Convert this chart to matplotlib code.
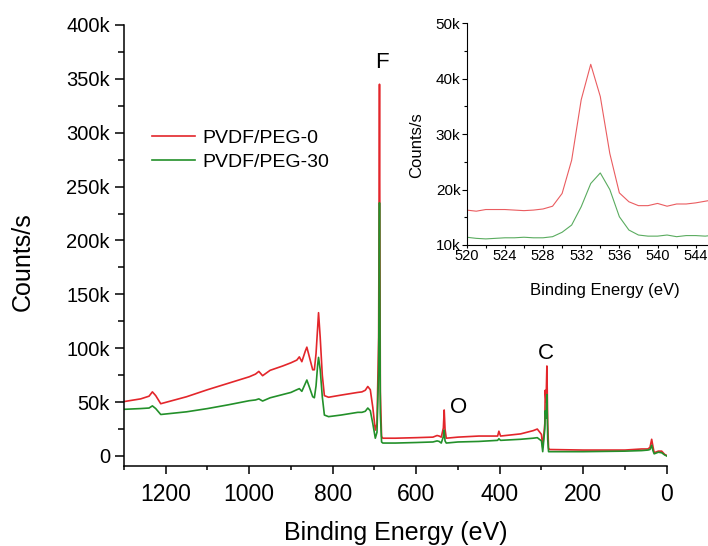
import matplotlib.pyplot as plt
from matplotlib.ticker import MultipleLocator, FuncFormatter

plt.rcParams['font.family'] = ['Liberation Sans', 'DejaVu Sans']

# XPS survey spectra (binding energy in eV, counts/s in thousands)
be_survey = [1300, 1260, 1240, 1232, 1224, 1212, 1150, 1100, 1050, 1000,
             985, 977, 968, 950, 920, 900, 886, 880, 874, 866,
             862, 856, 848, 844, 840, 836, 834, 830, 825, 820,
             810, 780, 740, 730, 722, 716, 710, 704, 698, 694,
             690, 688, 686, 683, 680, 650, 600, 560, 550, 545,
             540, 535, 533, 531, 528, 500, 450, 405, 402, 398,
             350, 320, 310, 300, 297, 292, 291, 289, 287, 285,
             283, 280, 200, 100, 60, 45, 40, 36, 33, 30,
             20, 12, 5, 0]
peg0_k = [50.5, 53, 55.5, 59.5, 56, 48.5, 55, 61.5, 67.5, 73.5,
          76, 78.5, 74.5, 79.5, 83.5, 86.5, 89, 92, 87.5, 97,
          101, 92, 80, 80, 95, 120, 133, 110, 75, 56,
          54.5, 56.5, 59, 59.5, 61, 64.5, 61.5, 45, 24, 30,
          110, 345, 60, 18, 16.5, 16.5, 17, 17.5, 19, 18.5,
          17.5, 26, 42.7, 25, 16.5, 17.5, 18.5, 18.5, 23, 18.5,
          20.5, 23.5, 25, 20, 8, 30, 61, 50, 83.5, 30,
          7, 6, 5.5, 5.5, 6.5, 6.5, 8, 15.5, 9, 3,
          4.5, 4.5, 1.5, 0.5]
peg30_k = [43.3, 44, 44.5, 46.5, 44, 38.5, 41, 44, 47.5, 51.3,
           52, 53, 51, 54, 57, 59, 61.5, 62.5, 60, 67,
           70.5, 64, 55, 54, 65, 85, 91.5, 80, 55, 38,
           36.5, 38, 40.5, 40.5, 41.5, 44.5, 42, 30, 16.5, 22,
           80, 235, 40, 13, 12, 12, 12.5, 13, 14, 13.5,
           12, 18, 24, 14, 12, 13, 13.5, 14.5, 16, 14.5,
           15.5, 16.5, 17, 14, 4, 25, 42, 35, 57, 15,
           4, 4, 4, 4.5, 5, 5.5, 6, 10, 5, 2,
           3.5, 3, 1, 0]

# O 1s region
be_o1s = [520, 521, 522, 523, 524, 525, 526, 527, 528, 529,
          530, 531, 532, 533, 534, 535, 536, 537, 538, 539,
          540, 541, 542, 543, 544, 545, 546, 547, 548, 549]
o1s_peg0_k = [16.3, 16.1, 16.4, 16.4, 16.4, 16.3, 16.2, 16.3, 16.5, 17.0,
              19.3, 25.3, 36.2, 42.6, 36.8, 26.5, 19.4, 17.8, 17.1, 17.1,
              17.5, 17.0, 17.4, 17.4, 17.6, 17.9, 18.2, 18.4, 18.5, 18.6]
o1s_peg30_k = [11.4, 11.2, 11.1, 11.2, 11.3, 11.3, 11.4, 11.3, 11.3, 11.5,
               12.3, 13.6, 16.9, 21.1, 23.0, 20.0, 15.1, 12.7, 11.8, 11.6,
               11.6, 11.8, 11.5, 11.7, 11.7, 11.6, 11.8, 11.8, 11.9, 11.9]
o1s_ticks = [520, 524, 528, 532, 536, 540, 544]

RED = '#e3262b'
GREEN = '#23902a'


def kfmt(v, pos):
    return '0' if v == 0 else f'{v / 1000:.0f}k'


fig = plt.figure(figsize=(7.08, 5.46), dpi=100)

# main survey plot
ax = fig.add_axes([124 / 708, 1 - 466 / 546, 542.7 / 708, 441 / 546])
ax.plot(be_survey, [v * 1000 for v in peg0_k], color=RED, lw=1.2, label='PVDF/PEG-0')
ax.plot(be_survey, [v * 1000 for v in peg30_k], color=GREEN, lw=1.2, label='PVDF/PEG-30')
ax.set_xlim(1300, 0)
ax.set_ylim(-9300, 400000)
ax.xaxis.set_major_locator(MultipleLocator(200))
ax.xaxis.set_minor_locator(MultipleLocator(100))
ax.yaxis.set_major_locator(MultipleLocator(50000))
ax.yaxis.set_minor_locator(MultipleLocator(25000))
ax.yaxis.set_major_formatter(FuncFormatter(kfmt))
for s in ['top', 'right']:
    ax.spines[s].set_visible(False)
for s in ['left', 'bottom']:
    ax.spines[s].set_linewidth(1.1)
ax.tick_params(axis='x', which='major', direction='out', length=5.5, width=1.1,
               pad=6.5, labelsize=16.5)
ax.tick_params(axis='x', which='minor', direction='out', length=3.2, width=1.1)
ax.tick_params(axis='y', which='major', direction='out', length=6.5, width=1.1,
               pad=3.6, labelsize=14.5)
ax.tick_params(axis='y', which='minor', direction='out', length=4, width=1.1)
ax.set_xlabel('Binding Energy (eV)', fontsize=18, labelpad=11)
ax.set_ylabel('Counts/s', fontsize=18, va='center')
ax.yaxis.set_label_coords(-0.186, 0.4626)

ax.text(683, 360000, 'F', ha='center', va='baseline', fontsize=16)
ax.text(498.5, 40000, 'O', ha='center', va='baseline', fontsize=16)
ax.text(288.5, 90000, 'C', ha='center', va='baseline', fontsize=16)

ax.legend(loc='upper left', bbox_to_anchor=(152 / 708, 1 - 129 / 546),
          bbox_transform=fig.transFigure, frameon=False, fontsize=14,
          handlelength=2.2, handletextpad=0.41, labelspacing=0.33,
          borderpad=0, borderaxespad=0)

# O 1s inset (runs past the right edge of the figure)
axin = fig.add_axes([466.7 / 708, 1 - 245 / 546, 276.7 / 708, 221.7 / 546])
axin.plot(be_o1s, [v * 1000 for v in o1s_peg0_k], color=RED, lw=0.8, alpha=0.75)
axin.plot(be_o1s, [v * 1000 for v in o1s_peg30_k], color=GREEN, lw=0.8, alpha=0.75)
axin.set_xlim(520, 549)
axin.set_ylim(10000, 50000)
axin.set_xticks(o1s_ticks)
axin.xaxis.set_minor_locator(MultipleLocator(2))
axin.yaxis.set_major_locator(MultipleLocator(10000))
axin.yaxis.set_minor_locator(MultipleLocator(5000))
axin.yaxis.set_major_formatter(FuncFormatter(kfmt))
for s in ['top', 'right']:
    axin.spines[s].set_visible(False)
for s in ['left', 'bottom']:
    axin.spines[s].set_linewidth(0.8)
axin.tick_params(axis='x', which='major', direction='out', length=2.5, width=0.8,
                 pad=0.5, labelsize=10.5)
axin.tick_params(axis='y', which='major', direction='out', length=3.5, width=0.8,
                 pad=1, labelsize=11)
axin.tick_params(which='minor', direction='out', length=2, width=0.8)
axin.set_xlabel('Binding Energy (eV)', fontsize=12, labelpad=14.5)
axin.set_ylabel('Counts/s', fontsize=12, va='center')
axin.yaxis.set_label_coords(-0.1815, 0.451)

fig.savefig('out.png', dpi=100)
